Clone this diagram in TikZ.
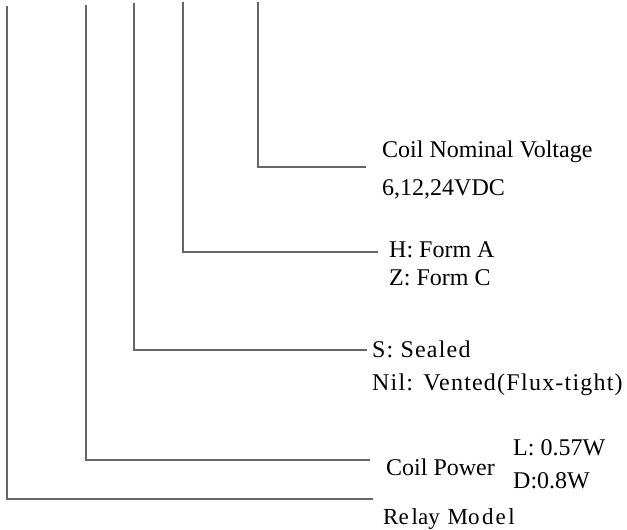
\documentclass[tikz,border=0pt]{standalone}
\usepackage{fontspec}
\setmainfont{Liberation Serif}
\newfontfamily\spacedfont[LetterSpace=5]{Liberation Serif}
\begin{document}
\begin{tikzpicture}[x=1pt,y=-1pt,
  leader/.style={draw=black!60,line width=1.3pt},
  lbl/.style={anchor=base west,inner sep=0pt,font=\fontsize{24}{26}\selectfont},
  spaced/.style={lbl,font=\spacedfont\fontsize{24}{26}\selectfont}]
\useasboundingbox (0,0) rectangle (627,530);
% top ends
\coordinate (tA) at (7,6);
\coordinate (tB) at (86,5);
\coordinate (tC) at (134,3);
\coordinate (tD) at (183,2);
\coordinate (tE) at (258,2);
% right ends
\coordinate (eA) at (373,499);
\coordinate (eB) at (370,460);
\coordinate (eC) at (367,350);
\coordinate (eD) at (378,252);
\coordinate (eE) at (366,167);
% labels
\node[lbl] (voltage) at (382,157) {Coil Nominal Voltage};
\node[lbl] (volts) at (382,195) {6,12,24VDC};
\node[lbl] (formA) at (389,257) {H: Form A};
\node[lbl] (formC) at (389,285) {Z: Form C};
\node[spaced] (sealed) at (372,357) {S: Sealed};
\node[spaced] (vented) at (372,390) {Nil:\kern3pt\ Vented(F\kern1.5pt lux-tight)};
\node[lbl] (power) at (386,475) {Coil Power};
\node[lbl] (pL) at (513,455) {L: 0.57W};
\node[lbl] (pD) at (513,488) {D:0.8W};
\node[lbl,font=\fontsize{23}{25}\selectfont] (model) at (383,524) {Re\kern3pt lay\ \kern2pt Mo\kern2.5pt d\kern2pt e\kern2.5pt l};
% leaders
\draw[leader] (tA) |- (eA);
\draw[leader] (tB) |- (eB);
\draw[leader] (tC) |- (eC);
\draw[leader] (tD) |- (eD);
\draw[leader] (tE) |- (eE);
\end{tikzpicture}
\end{document}
